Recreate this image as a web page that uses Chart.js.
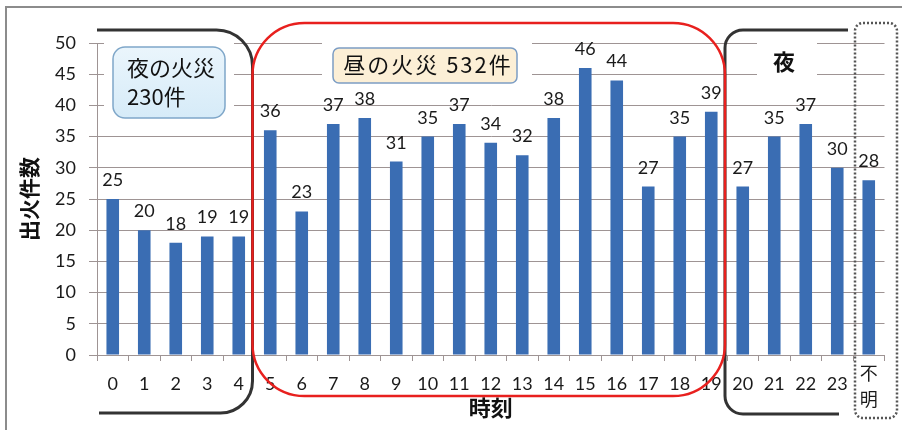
<!DOCTYPE html>
<html lang="ja">
<head>
<meta charset="utf-8">
<script src="https://cdn.jsdelivr.net/npm/chart.js@4/dist/chart.umd.min.js"></script>
<style>
  html, body { margin: 0; padding: 0; background: #fff; }
  #wrap { width: 902px; height: 430px; }
</style>
</head>
<body>
<div id="wrap"><canvas id="fireChart" width="902" height="430"></canvas></div>
<script>
// 時刻別の出火件数
const hours = ['0', '1', '2', '3', '4', '5', '6', '7', '8', '9', '10', '11', '12',
               '13', '14', '15', '16', '17', '18', '19', '20', '21', '22', '23', '不明'];
const fires = [25, 20, 18, 19, 19, 36, 23, 37, 38, 31, 35, 37, 34,
               32, 38, 46, 44, 27, 35, 39, 27, 35, 37, 30, 28];
const yTicks = [0, 5, 10, 15, 20, 25, 30, 35, 40, 45, 50];
const nightLabel = ['夜の火災', '230件'];
const dayLabel = '昼の火災 532件';
const nightLabel2 = '夜';
const yTitle = '出火件数';
const xTitle = '時刻';

const FONT = 'Lato, "Noto Sans CJK JP", sans-serif';
const JP_FONT = '"Noto Sans CJK JP", sans-serif';
const GRID = '#9e9494';

function roundRect(ctx, x, y, w, h, r) {
    ctx.beginPath();
    ctx.moveTo(x + r, y);
    ctx.lineTo(x + w - r, y);
    ctx.arcTo(x + w, y, x + w, y + r, r);
    ctx.lineTo(x + w, y + h - r);
    ctx.arcTo(x + w, y + h, x + w - r, y + h, r);
    ctx.lineTo(x + r, y + h);
    ctx.arcTo(x, y + h, x, y + h - r, r);
    ctx.lineTo(x, y + r);
    ctx.arcTo(x, y, x + r, y, r);
    ctx.closePath();
}

/**
 * Valores em cima das barras.
 */
const valueLabels = {
    id: 'valueLabels',
    afterDatasetsDraw(chart) {
        const ctx = chart.ctx;
        const meta = chart.getDatasetMeta(0);
        ctx.save();
        ctx.font = '18px ' + FONT;
        ctx.fillStyle = '#1a1a1a';
        ctx.textAlign = 'center';
        ctx.textBaseline = 'alphabetic';
        meta.data.forEach((bar, i) => {
            ctx.fillText(String(fires[i]), bar.x, bar.y - 13);
        });
        ctx.restore();
    }
};

/**
 * Moldura, colchetes e caixas de texto por cima do gráfico.
 */
const overlays = {
    id: 'overlays',
    afterDraw(chart) {
        const ctx = chart.ctx;
        const x = chart.scales.x;
        const area = chart.chartArea;
        const edge4 = x.getPixelForValue(4.5) - 2;    // entre 4 e 5
        const edge19 = x.getPixelForValue(19.5) - 2;  // entre 19 e 20
        const edge23 = x.getPixelForValue(23.5) + 2;  // entre 23 e 不明
        ctx.save();

        // moldura externa
        ctx.strokeStyle = '#8c8c8c';
        ctx.lineWidth = 2;
        ctx.beginPath();
        ctx.moveTo(6, 440);
        ctx.lineTo(6, 7);
        ctx.lineTo(910, 7);
        ctx.stroke();

        // "不明" na vertical
        ctx.font = '18px ' + FONT;
        ctx.fillStyle = '#1a1a1a';
        ctx.textAlign = 'center';
        ctx.textBaseline = 'middle';
        const px = x.getPixelForValue(24);
        ctx.fillText(hours[24].charAt(0), px, 374);
        ctx.fillText(hours[24].charAt(1), px, 400);

        // colchete da esquerda (夜)
        ctx.strokeStyle = '#333';
        ctx.lineWidth = 3;
        ctx.beginPath();
        ctx.moveTo(area.left, 30);
        ctx.arcTo(edge4, 30, edge4, 80, 36);
        ctx.lineTo(edge4, 380);
        ctx.arcTo(edge4, 413, edge4 - 40, 413, 32);
        ctx.lineTo(area.left + 2, 413);
        ctx.stroke();

        // colchete da direita (夜)
        ctx.beginPath();
        ctx.moveTo(848, 30);
        ctx.arcTo(edge19, 30, edge19, 60, 18);
        ctx.lineTo(edge19, 395);
        ctx.arcTo(edge19, 414, edge19 + 30, 414, 18);
        ctx.lineTo(839, 414);
        ctx.stroke();

        // retângulo vermelho (昼)
        ctx.strokeStyle = '#e8201e';
        ctx.lineWidth = 2.5;
        roundRect(ctx, edge4, 23, edge19 - edge4, 373, 52);
        ctx.stroke();

        // retângulo pontilhado (不明)
        ctx.strokeStyle = '#555';
        ctx.lineWidth = 2.5;
        ctx.setLineDash([2, 2]);
        roundRect(ctx, edge23, 23, 897 - edge23, 395, 8);
        ctx.stroke();
        ctx.setLineDash([]);

        // caixa 夜の火災
        ctx.fillStyle = '#fff';
        ctx.fillRect(104, 40, 130, 86);
        const grad = ctx.createLinearGradient(0, 47, 0, 118);
        grad.addColorStop(0, '#eaf5fc');
        grad.addColorStop(1, '#d6ebf8');
        roundRect(ctx, 113, 47, 112, 71, 12);
        ctx.fillStyle = grad;
        ctx.fill();
        ctx.strokeStyle = '#7fa7c9';
        ctx.lineWidth = 1.5;
        ctx.stroke();
        ctx.font = '22px ' + JP_FONT;
        ctx.fillStyle = '#111';
        ctx.textAlign = 'left';
        ctx.fillText(nightLabel[0], 127, 68);
        ctx.fillText(nightLabel[1], 127, 97);

        // caixa 昼の火災
        ctx.fillStyle = '#fff';
        ctx.fillRect(322, 38, 210, 54);
        roundRect(ctx, 333, 48, 184, 35, 6);
        ctx.fillStyle = '#fcefd6';
        ctx.fill();
        ctx.strokeStyle = '#7c9dc4';
        ctx.stroke();
        ctx.fillStyle = '#111';
        ctx.textAlign = 'center';
        ctx.font = '22px ' + JP_FONT;
        ctx.letterSpacing = '2px';
        ctx.fillText(dayLabel, 428, 65);
        ctx.letterSpacing = '0px';

        // 夜 da direita
        ctx.fillStyle = '#fff';
        ctx.fillRect(757, 40, 60, 40);
        ctx.fillStyle = '#111';
        ctx.font = 'bold 22px ' + JP_FONT;
        ctx.fillText(nightLabel2, 784, 62);

        ctx.restore();
    }
};

const ctx = document.getElementById('fireChart').getContext('2d');
new Chart(ctx, {
    type: 'bar',
    data: {
        labels: hours,
        datasets: [{
            data: fires,
            backgroundColor: '#3a6db3',
            barPercentage: 0.4,
            categoryPercentage: 1
        }]
    },
    options: {
        responsive: false,
        animation: false,
        devicePixelRatio: 1,
        layout: { padding: { left: 8, top: 43, right: 17.5, bottom: 4 } },
        plugins: {
            legend: { display: false },
            tooltip: { enabled: false }
        },
        scales: {
            x: {
                afterFit: (scale) => { scale.height = 71; },
                grid: { offset: true, drawOnChartArea: false, drawTicks: true, tickLength: 6, color: GRID },
                border: { color: GRID },
                ticks: {
                    color: '#1a1a1a',
                    font: { family: FONT, size: 18 },
                    padding: 12,
                    maxRotation: 0,
                    autoSkip: false,
                    callback: (v, i) => (i === 24 ? '' : hours[i])
                },
                title: {
                    display: true,
                    text: xTitle,
                    color: '#111',
                    font: { family: JP_FONT, size: 22, weight: 'bold' },
                    padding: { top: 0, bottom: 5 }
                }
            },
            y: {
                min: 0,
                max: 50,
                afterFit: (scale) => { scale.width = 89; },
                afterBuildTicks: (scale) => { scale.ticks = yTicks.map(v => ({ value: v })); },
                grid: { color: GRID, tickLength: 8 },
                border: { color: GRID },
                ticks: {
                    color: '#1a1a1a',
                    font: { family: FONT, size: 18 },
                    padding: 13
                },
                title: {
                    display: true,
                    text: yTitle,
                    color: '#111',
                    font: { family: JP_FONT, size: 21, weight: 'bold' },
                    padding: { top: 8, bottom: 0 }
                }
            }
        }
    },
    plugins: [valueLabels, overlays]
});
</script>
</body>
</html>
